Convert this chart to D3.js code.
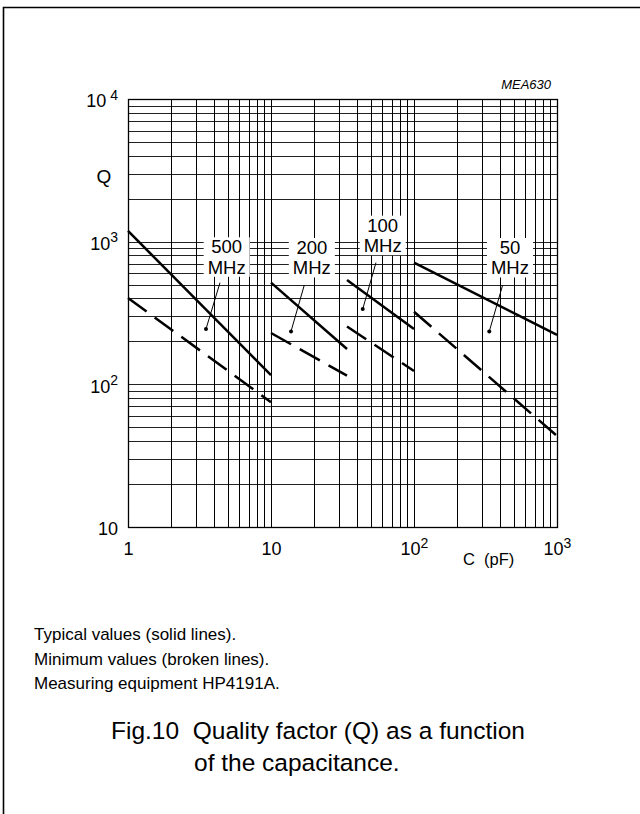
<!DOCTYPE html>
<html><head><meta charset="utf-8">
<script src="https://cdn.jsdelivr.net/npm/d3@7"></script>
<style>
body{margin:0;background:#fff}
svg{display:block}
text{font-family:"Liberation Sans",Arial,Helvetica,sans-serif;fill:#000;white-space:pre}
</style>
</head><body>
<svg id="c" width="640" height="814"></svg>
<script>
// ---- data ----
const xDomain = [1, 1000];
const yDomain = [10, 10000];
const xTicks = [1, 10, 100, 1000];
const xTickLabels = [["1", ""], ["10", ""], ["10", "2"], ["10", "3"]];
const yTicks = [10, 100, 1000, 10000];
const yTickLabels = [["10", ""], ["10", "2"], ["10", "3"], ["10", " 4"]];
const frequencies = ["500", "200", "100", "50"];
const segmentC = [[1, 10], [10, 34], [34, 100], [100, 1000]];
const typicalQ = [[1190, 116], [516, 177], [539, 244], [713, 222]];
const minimumQ = [[403, 75], [229, 115], [254, 124], [323, 43.5]];
const labelC = [4.9, 19.3, 60.4, 469];
const labelQ = [829, 820, 1175, 820];
const leaderStartC = [4.4, 17.1, 54.2, 417];
const leaderStartQ = [516, 497, 713, 497];
const leaderEndC = [3.51, 13.8, 43.8, 336];
const leaderEndQ = [244, 235, 337, 235];
const notes = ["Typical values (solid lines).", "Minimum values (broken lines).", "Measuring equipment HP4191A."];
const captionLines = ["Fig.10  Quality factor (Q) as a function", "of the capacitance."];

// ---- layout ----
const svg = d3.select("#c");
const L = 128, R = 557, T = 99, B = 527;
const x = d3.scaleLog().domain(xDomain).range([L, R]);
const y = d3.scaleLog().domain(yDomain).range([B, T]);

// frame
svg.append("path").attr("d", "M3.5,814V7.5H640").attr("fill", "none").attr("stroke", "#000").attr("stroke-width", 1.6);

// grid
function logGrid(domain) {
  const out = [];
  for (let d = Math.log10(domain[0]); d < Math.log10(domain[1]); d++) {
    for (let k = 1; k <= 9; k++) out.push(k * Math.pow(10, d));
  }
  out.push(domain[1]);
  return out;
}
const g = svg.append("g");
g.selectAll("line.h").data(logGrid(yDomain)).join("line")
  .attr("x1", L).attr("x2", R).attr("y1", d => Math.round(y(d)) + 0.5).attr("y2", d => Math.round(y(d)) + 0.5)
  .attr("stroke", "#222").attr("stroke-width", 1);
g.selectAll("line.v").data(logGrid(xDomain)).join("line")
  .attr("y1", T).attr("y2", B).attr("x1", d => Math.round(x(d)) + 0.5).attr("x2", d => Math.round(x(d)) + 0.5)
  .attr("stroke", "#000").attr("stroke-width", 1);
svg.append("rect").attr("x", L + 0.5).attr("y", T + 0.5).attr("width", R - L).attr("height", B - T)
  .attr("fill", "none").attr("stroke", "#000").attr("stroke-width", 1.3);

// axes (tick labels)
const yAxis = svg.append("g").attr("transform", `translate(${L},0)`)
  .call(d3.axisLeft(y).tickValues(yTicks).tickSize(0).tickPadding(10).tickFormat(""));
yAxis.select(".domain").remove();
yAxis.selectAll(".tick text").each(function(d, i) {
  const t = d3.select(this).attr("font-size", 18).attr("dy", "0.44em").attr("text-anchor", "end");
  t.text(null);
  t.append("tspan").text(yTickLabels[i][0]);
  if (yTickLabels[i][1]) t.append("tspan").attr("font-size", 14).attr("dy", "-0.55em").text(yTickLabels[i][1]);
});
const xAxis = svg.append("g").attr("transform", `translate(0,${B})`)
  .call(d3.axisBottom(x).tickValues(xTicks).tickSize(0).tickPadding(0).tickFormat(""));
xAxis.select(".domain").remove();
xAxis.selectAll(".tick text").each(function(d, i) {
  const t = d3.select(this).attr("font-size", 18).attr("y", 28).attr("dy", 0).attr("text-anchor", "middle");
  t.text(null);
  t.append("tspan").text(xTickLabels[i][0]);
  if (xTickLabels[i][1]) t.append("tspan").attr("font-size", 14).attr("dy", -7).text(xTickLabels[i][1]);
});

svg.append("text").attr("x", 104).attr("y", 183).attr("text-anchor", "middle").attr("font-size", 19).text("Q");
svg.append("text").attr("x", 463).attr("y", 565).attr("font-size", 16.5).text("C  (pF)");
svg.append("text").attr("x", 551).attr("y", 89).attr("text-anchor", "end").attr("font-size", 13).attr("font-style", "italic").text("MEA630");

// frequency labels with white knock-out boxes
frequencies.forEach((f, i) => {
  const cx = x(labelC[i]), by = y(labelQ[i]);
  const lg = svg.append("g");
  const box = lg.append("rect").attr("fill", "#fff");
  const t1 = lg.append("text").attr("x", cx).attr("y", by).attr("text-anchor", "middle").attr("font-size", 18.5).text(f);
  const t2 = lg.append("text").attr("x", cx).attr("y", by + 20.5).attr("text-anchor", "middle").attr("font-size", 18.5).text("MHz");
  const b1 = t1.node().getBBox(), b2 = t2.node().getBBox();
  const x0 = Math.min(b1.x, b2.x) - 4, x1 = Math.max(b1.x + b1.width, b2.x + b2.width) + 4;
  const y0 = b1.y + 1, y1 = b2.y + b2.height - 1;
  box.attr("x", x0).attr("y", y0).attr("width", x1 - x0).attr("height", y1 - y0);
});

// curves
const line = d3.line().x(d => x(d[0])).y(d => y(d[1]));
frequencies.forEach((f, i) => {
  const typ = segmentC[i].map((c, j) => [c, typicalQ[i][j]]);
  const min = segmentC[i].map((c, j) => [c, minimumQ[i][j]]);
  svg.append("path").attr("d", line(typ)).attr("fill", "none").attr("stroke", "#000").attr("stroke-width", 2.5);
  svg.append("path").attr("d", line(min)).attr("fill", "none").attr("stroke", "#000").attr("stroke-width", 2.5)
    .attr("stroke-dasharray", "23,10");
});

// leaders
frequencies.forEach((f, i) => {
  svg.append("line").attr("x1", x(leaderStartC[i])).attr("y1", y(leaderStartQ[i]))
    .attr("x2", x(leaderEndC[i])).attr("y2", y(leaderEndQ[i])).attr("stroke", "#000").attr("stroke-width", 1);
  svg.append("circle").attr("cx", x(leaderEndC[i])).attr("cy", y(leaderEndQ[i])).attr("r", 2).attr("fill", "#000");
});

// notes and caption
notes.forEach((n, i) => {
  svg.append("text").attr("x", 34).attr("y", 640 + i * 24.5).attr("font-size", 17).text(n);
});
svg.append("text").attr("x", 111).attr("y", 739).attr("font-size", 24.5).text(captionLines[0]);
svg.append("text").attr("x", 194).attr("y", 771).attr("font-size", 24.5).text(captionLines[1]);
</script>
</body></html>
